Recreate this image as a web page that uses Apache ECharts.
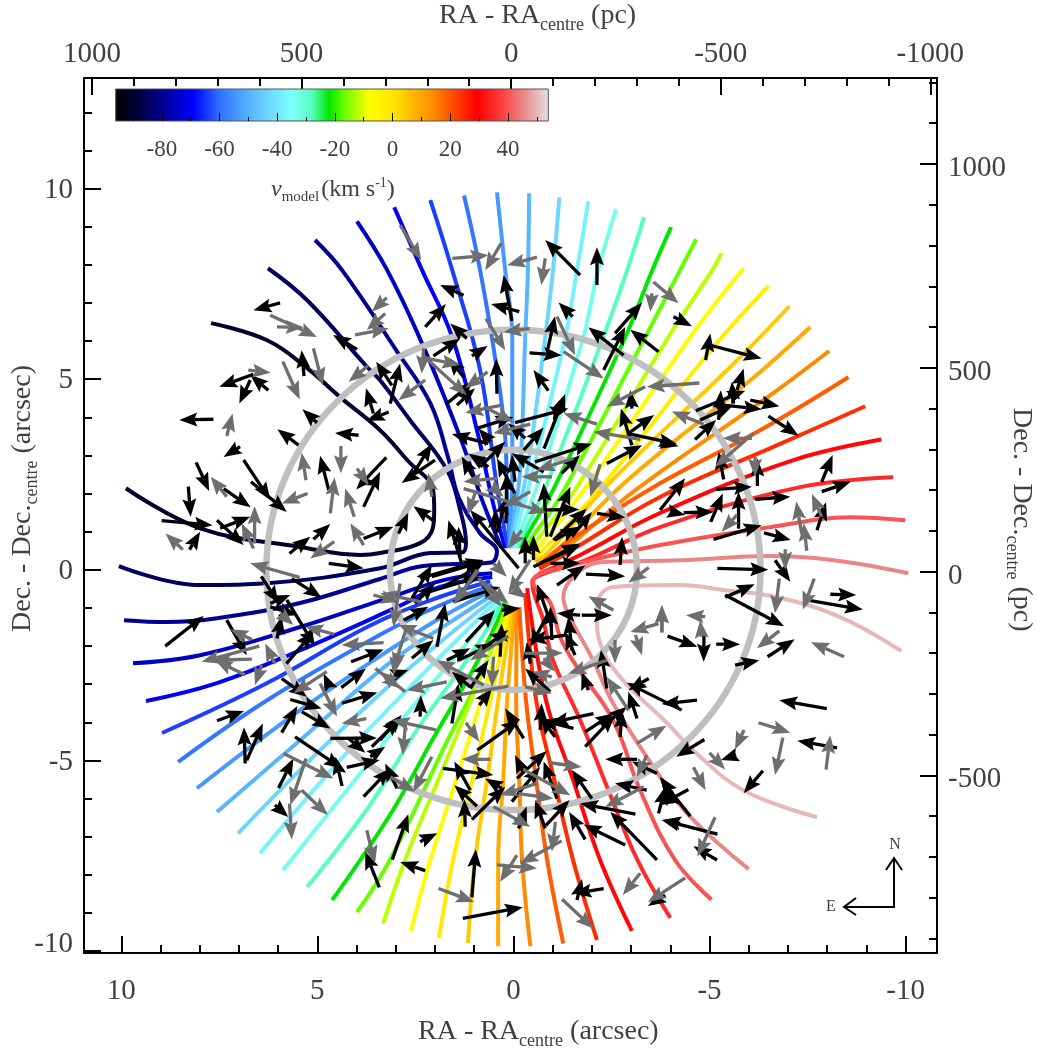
<!DOCTYPE html>
<html><head><meta charset="utf-8">
<style>html,body{margin:0;padding:0;background:#fff}#c{width:1037px;height:1052px}</style>
<script src="https://cdn.jsdelivr.net/npm/echarts@6/dist/echarts.min.js"></script>
</head><body><div id="c"></div>
<script>
// colour bar
const cbValues=[-96,-88,-80,-69,-60,-52,-45,-35,-28,-22,-17,-8,0,8,14,22,29,38,46,54];
const cbColors=['#000000','#00003c','#000090','#0000ff','#3070ff','#4da6ff','#66ccff','#7fffff','#55ffc0','#00e600','#66ff00','#ffff00','#ffe600','#ffb000','#ff8c00','#ff4000','#ff0000','#ff4040','#e89090','#e6e0e0'];
const cbMajor=[-80,-60,-40,-20,0,20,40];
const cbMinor=[-90,-70,-50,-30,-10,10,30,50];
// axes
const raMajor=[-10,-5,0,5,10];
const raMinor=[-9,-8,-7,-6,-4,-3,-2,-1,1,2,3,4,6,7,8,9];
const decMajor=[-10,-5,0,5,10];
const decMinor=[-9,-8,-7,-6,-4,-3,-2,-1,1,2,3,4,6,7,8,9,11,12];
const pcXMajor=[-1000,-500,0,500,1000];
const pcXMinor=[-900,-800,-700,-600,-400,-300,-200,-100,100,200,300,400,600,700,800,900];
const pcYMajor=[-500,0,500,1000];
const pcYMinor=[-900,-800,-700,-600,-400,-300,-200,-100,100,200,300,400,600,700,800,900,1100,1200];
// rings (arcsec)
const ringRadii=[3.15,6.3];
// contours
const contourValues=[-90,-85,-80,-75,-70,-64,-59,-54,-49,-43,-38,-33,-28,-22,-17,-12,-7,-2,4,9,14,19,24,30,35,40,45,50];
const contourPaths=[
[[[7.71,6.47],[6.28,6.02],[5.26,5.29],[4.42,4.53],[3.40,3.66],[2.71,2.88],[2.05,2.09],[2.02,1.57],[2.05,1.12],[2.38,.70],[3.40,.44],[3.91,.39],[5.44,.60],[7.99,1.09],[9.88,2.14]]],
[[[6.26,7.91],[5.26,7.07],[3.73,5.32],[3.40,4.97],[2.64,3.93],[1.69,2.61],[1.36,1.57],[1.21,.70],[1.31,.46],[2.12,.44],[3.40,.04],[6.28,-.35],[7.99,-.40],[10.06,.10]]],
[[[5.06,8.65],[4.37,7.86],[2.97,5.73],[2.12,4.37],[1.67,2.96],[1.40,1.91],[.85,.96],[.42,.49],[.54,.20],[.85,.17],[2.30,.10],[3.40,-.24],[5.44,-.87],[7.56,-1.27],[8.83,-1.37],[9.93,-1.32]]],
[[[3.99,9.14],[3.22,7.86],[2.33,5.94],[1.36,3.48],[.77,1.75],[.31,.59]],[[.54,-.09],[1.70,-.25],[3.15,-.72],[5.44,-1.50],[7.99,-2.24],[9.70,-2.45]]],
[[[3.04,9.51],[2.33,7.86],[1.56,6.10],[.93,3.66],[.52,1.75],[.21,.57]],[[.54,-.19],[1.87,-.45],[2.97,-.98],[5.44,-2.11],[7.56,-2.97],[9.37,-3.44]]],
[[[2.12,9.70],[1.56,7.86],[.85,5.24],[.42,2.17],[.14,.57]],[[.59,-.30],[2.12,-.80],[3.73,-1.50],[6.28,-2.97],[8.96,-4.28]]],
[[[1.26,9.82],[.85,7.86],[.42,5.24],[.21,3.48],[.16,1.75],[.08,.57]],[[.54,-.40],[1.87,-.93],[3.32,-1.66],[6.28,-3.42],[8.55,-5.04]]],
[[[.42,9.90],[.21,7.86],[.03,6.10],[.03,2.61],[.08,1.04],[.11,.57]],[[.49,-.51],[1.74,-1.19],[2.89,-1.92],[5.44,-3.68],[8.07,-5.73]]],
[[[-.40,9.88],[-.37,7.86],[-.30,6.10],[-.17,2.61],[.03,1.04],[.06,.57]],[[.42,-.58],[1.61,-1.37],[3.07,-2.37],[5.44,-4.47],[7.56,-6.35]]],
[[[-1.17,9.77],[-1.01,7.86],[-.81,6.10],[-.35,2.61],[-.02,1.04],[.01,.57]],[[.36,-.66],[1.49,-1.58],[3.15,-3.02],[4.93,-4.73],[7.02,-6.91]]],
[[[-1.91,9.67],[-1.62,7.86],[-1.32,6.10],[-.50,2.61],[-.09,1.04],[-.04,.57]],[[.31,-.72],[1.36,-1.76],[2.89,-3.34],[4.42,-4.99],[6.46,-7.43]]],
[[[-2.62,9.46],[-2.16,7.86],[-1.78,6.10],[-.68,2.43],[-.17,.96],[-.09,.57]],[[.26,-.77],[1.23,-1.97],[2.64,-3.68],[4.04,-5.51],[5.88,-7.88]]],
[[[-3.33,9.25],[-2.90,7.86],[-2.29,6.10],[-.86,2.27],[-.25,.91],[-.14,.57]],[[.24,-.82],[1.10,-2.24],[2.38,-4.07],[3.66,-6.17],[5.26,-8.32]]],
[[[-4.02,8.99],[-3.54,7.86],[-2.85,6.10],[-1.01,2.09],[-.35,.91],[-.20,.57]],[[.19,-.85],[.90,-2.37],[2.00,-4.34],[3.15,-6.43],[4.62,-8.66]]],
[[[-4.66,8.67],[-4.25,7.86],[-3.36,6.10],[-1.19,1.91],[-.48,.86],[-.27,.52]],[[.16,-.87],[.72,-2.50],[1.74,-4.60],[3.15,-7.61],[3.99,-8.98]]],
[[[-5.30,8.30],[-5.07,7.86],[-3.95,6.10],[-1.57,2.09],[-.60,.78],[-.34,.46]],[[.14,-.90],[1.08,-3.42],[1.92,-5.51],[2.76,-7.61],[3.32,-9.27]]],
[[[-5.87,7.91],[-4.64,6.29],[-1.83,2.14],[-.68,.65],[-.43,.39]],[[.08,-.93],[.82,-3.42],[1.46,-5.51],[2.12,-7.61],[2.61,-9.47]]],
[[[-6.50,7.44],[-5.14,5.89],[-2.21,2.14],[-.76,.52],[-.48,.31]],[[.06,-.95],[.59,-3.42],[1.05,-5.51],[1.54,-7.61],[1.90,-9.66]]],
[[[-7.04,6.92],[-5.66,5.45],[-2.47,2.30],[-.86,.44],[-.53,.25]],[[.01,-.98],[.39,-3.42],[.67,-5.51],[.98,-7.61],[1.16,-9.79]]],
[[[-7.57,6.37],[-6.04,4.97],[-2.85,2.30],[-.94,.36],[-.57,.20]],[[-.04,-.98],[.16,-3.42],[.26,-5.51],[.39,-7.61],[.39,-9.87]]],
[[[-8.05,5.74],[-6.55,4.58],[-3.11,2.09],[-1.06,.33],[-.60,.12]],[[-.09,-.98],[-.07,-3.42],[-.15,-5.51],[-.22,-7.61],[-.43,-9.87]]],
[[[-8.54,5.05],[-6.29,3.66],[-3.74,2.27],[-1.45,.78],[-.64,.10]],[[-.15,-.98],[-.32,-3.42],[-.58,-5.51],[-.86,-7.61],[-1.27,-9.80]]],
[[[-8.97,4.29],[-6.73,3.27],[-3.74,1.91],[-1.57,.57],[-.66,.02]],[[-.30,-.61],[-.58,-3.42],[-1.04,-5.51],[-1.52,-7.61],[-2.13,-9.71]]],
[[[-9.38,3.42],[-7.14,2.88],[-3.74,1.49],[-1.70,.39],[-.64,-.11]],[[-.35,-.48],[-.83,-3.42],[-1.52,-5.51],[-2.21,-7.61],[-3.02,-9.47]]],
[[[-9.68,2.43],[-7.31,2.17],[-3.74,1.12],[-1.83,.25],[-.68,-.14],[-.48,-.32],[-.76,-1.32],[-1.01,-2.37],[-1.70,-3.94],[-2.39,-5.70],[-3.16,-7.61],[-4.00,-9.13]]],
[[[-9.99,1.30],[-8.59,1.38],[-6.55,1.12],[-3.74,.65],[-1.45,.12],[-.68,-.10],[-.50,-.32],[-.94,-.87],[-1.19,-1.76],[-1.62,-2.55],[-2.54,-3.94],[-3.23,-5.78],[-4.12,-7.61],[-5.05,-8.65]]],
[[[-10.07,-.09],[-8.16,.25],[-6.55,.36],[-4.25,.25],[-2.21,.20],[-1.57,-.14],[-1.27,-.72],[-1.44,-1.24],[-2.03,-2.37],[-2.54,-3.50],[-3.74,-5.43],[-4.51,-6.48],[-6.00,-7.85]]],
[[[-9.89,-2.13],[-8.33,-1.24],[-6.73,-.72],[-5.35,-.53],[-4.25,-.40],[-2.54,-.45],[-2.13,-.93],[-2.13,-1.24],[-2.21,-1.92],[-2.72,-2.81],[-3.92,-4.02],[-4.58,-4.73],[-5.86,-5.78],[-7.74,-6.49]]]
];
// arrows: tail x, tail y, tip x, tip y (arcsec)
const blackArrows=[
[5.95,7.00,6.63,6.81],[6.25,4.71,6.71,5.11],[6.63,5.13,7.50,4.80],[6.71,4.98,6.99,4.36],[7.65,3.95,8.52,3.93],[5.34,5.08,5.40,5.76],[3.99,5.78,4.60,6.16],[5.01,3.86,5.38,4.21],[5.48,3.27,6.02,3.69],[3.95,3.53,4.55,3.59],
[6.97,3.23,7.39,2.96],[6.88,2.88,6.20,1.83],[8.09,2.82,7.76,2.07],[8.29,2.18,8.23,1.39],[7.39,2.13,6.70,1.64],[6.69,2.31,5.78,1.52],[8.97,1.29,7.67,1.17],[8.26,.53,7.99,1.00],[7.56,1.30,6.88,.65],[7.48,1.09,6.71,1.39],
[5.71,.43,5.18,.87],[5.10,.80,4.67,1.20],[4.71,.17,3.82,.04],[3.82,.82,3.06,1.13],[3.82,1.65,3.40,2.57],[3.24,2.95,4.01,2.11],[4.71,2.09,4.93,2.99],[3.57,4.10,3.76,4.76],[3.18,4.14,3.74,3.91],[3.10,4.84,3.50,5.46],[3.14,4.36,2.89,5.41],
[1.27,7.20,1.87,7.47],[2.25,6.37,1.72,6.97],[.04,6.53,.25,7.73],[-.15,6.77,.57,6.97],[1.19,6.07,1.61,6.46],[2.04,5.61,1.36,6.07],[1.06,5.61,.66,5.87],[.42,4.62,.44,5.54],[1.27,5.05,1.66,5.57],[1.70,4.36,1.02,4.93],[1.44,4.32,.98,4.76],
[-.89,4.70,-.51,5.24],[-.87,5.76,-1.06,6.65],[-.41,5.69,-1.23,5.63],[-1.51,6.64,-1.15,7.01],[-2.81,5.63,-1.91,6.36],[-2.30,5.24,-2.85,6.37],[-2.59,6.20,-3.28,7.01],[-3.70,5.72,-2.98,6.30],[.93,3.71,0,4.01],[-.04,3.86,-1.40,4.23],[-.78,3.18,-1.32,4.61],[-.26,3.14,-.77,3.73],
[.64,3.31,1.57,3.56],[.59,3.36,.89,3.71],[-.30,3.45,.13,3.84],[-3.02,3.27,-2.74,4.23],[-3.02,4.23,-2.98,4.71],[-2.93,3.58,-3.59,4.06],[-2.38,2.79,-3.28,3.27],[-2.89,3.58,-4.17,3.30],[-.55,2.83,-2.00,3.31],[-1.23,2.53,-1.70,3.01],[-.77,2.57,.04,3.05],[.85,2.70,.21,3.36],
[.89,2.18,1.32,2.97],[.64,2.70,1.15,3.05],[-.04,2.00,.42,2.92],[-.04,2.31,.04,3.01],[.19,1.22,.17,2.53],[.42,.98,.17,1.92],[.47,.95,.47,1.57],[2.00,2.88,2.85,2.28],[2.55,2.53,2.08,3.31],[2.00,1.26,2.55,1.67],[2.93,.95,2.68,1.50],[1.32,.17,1.66,1.30],[1.36,.34,1.40,1.13],[-.13,.04,1.10,1.57],
[-.77,1.57,-1.68,1.58],[-.85,.87,-.77,2.27],[-.94,.87,-1.45,2.18],[-1.02,.78,-1.87,1.61],[-1.49,.87,-2.00,1.52],[-2.13,1.48,-2.85,1.37],[-1.06,.78,-1.66,1.13],[-.68,.17,-1.70,.69],[-.30,.17,-.30,.87],[-.51,.26,-.51,.91],[-2.72,.13,-2.77,.87],[-.94,.17,-1.70,.17],[-3.74,1.57,-4.38,2.40],
[-4.08,6.64,-4.55,6.39],[-4.90,5.50,-5.02,6.20],[-5.02,5.89,-6.33,5.54],[-5.70,4.71,-5.87,5.28],[-4.65,4.17,-5.91,4.70],[-5.61,4.36,-5.57,4.93],[-5.23,3.93,-5.29,4.71],[-5.36,4.32,-6.33,4.21],[-6.04,4.45,-6.78,4.29],[-6.50,4.03,-7.27,3.52],[-4.63,3.42,-5.17,3.93],[-4.76,3.93,-5.61,4.32],[-3.74,3.36,-4.21,3.24],
[-5.36,2.37,-5.23,3.10],[-6.22,2.20,-6.22,2.92],[-7.86,2.31,-8.14,3.01],[-5.17,2.11,-6.08,2.18],[-5.74,1.08,-5.74,2.05],[-6.16,1.85,-7.06,1.92],[-7.86,2.05,-8.60,2.31],[-5.03,1.26,-5.34,2.00],[-4.34,1.50,-5.10,1.52],[-3.99,1.53,-4.38,1.44],[-5.10,.80,-6.33,1.17],[-6.39,.97,-7.07,.78],[-7.74,1.04,-7.97,1.77],[-5.20,.04,-6.50,0],[-6.67,.25,-7.06,-.31],
[2.38,-.22,.76,.26],[2.29,-.62,.85,-.18],[1.78,-.44,.76,.17],[1.95,-2.02,1.74,-.88],[-1.11,-.40,-1.83,.12],[-1.85,-.11,-2.85,-.17],[-.51,.08,-1.70,.65],
[2.59,-.75,2.08,.12],[2.51,-.88,2.00,-.36],[2.08,-.18,.81,.21],[2.80,-1.32,2.17,-.97],[2.59,-2.32,2.04,-1.84],[1.53,-.84,.34,-.45],[3.06,-2.76,2.68,-2.63],[1.21,-1.89,.47,-1.06],[1.70,-2.37,1.10,-2.06],[1.40,-2.37,.51,-1.93],[.85,-2.11,.13,-1.58],[.30,-1.06,-.17,-1.01],[.34,-2.28,.30,-1.41],
[1.10,-3.07,1.57,-2.67],[1.10,-3.11,.64,-2.37],[1.57,-4.03,1.40,-2.98],[.87,-3.55,.55,-3.11],[2.38,-3.85,2.36,-3.29],[3.40,-4.47,2.85,-3.81],[-.26,-4.42,.21,-3.64],[.92,-4.73,-.15,-3.94],[1.80,-5.21,.51,-5.38],[1.10,-5.78,1.51,-5.03],[.93,-6.20,1.51,-5.65],[1.06,-6.55,.21,-5.69],[1.23,-6.74,1.25,-6.02],[.30,-5.73,.72,-5.47],
[.04,-6.08,-.68,-5.17],[-.09,-5.47,-.85,-4.75],[-.26,-5.34,-.04,-4.86],[-1.11,-6.00,-.77,-5.03],[-.81,-6.78,-.55,-6.04],[-.83,-6.70,-1.43,-6.04],[-.13,-6.78,-.34,-6.21],[-1.83,-7.07,-1.42,-6.35],[-2.85,-7.22,-1.79,-6.68],[-3.11,-6.41,-1.70,-6.13],[-3.66,-7.61,-2.47,-6.35],[-2.00,-6.00,-1.49,-5.25],
[-2.04,-3.77,-.94,-4.01],[-1.53,-4.16,-.68,-3.94],[-1.06,-4.38,-.68,-3.85],[-.68,-4.20,-.72,-3.50],[-.94,-3.20,-.30,-2.59],[-.43,-2.46,-.34,-1.89],[-1.57,-2.24,-1.32,-1.63],[-1.36,-1.71,-.38,-1.84],[-1.49,-2.11,-1.40,-1.23],[-.98,-1.49,-.60,-.37],[-.98,-1.84,-.94,-.97],[-.89,-1.14,-.43,-2.02],[-1.70,-1.19,-1.11,-1.14],[-1.74,-1.19,-2.51,-1.19],
[-1.91,-3.16,-1.74,-2.67],[-2.38,-3.11,-2.23,-2.10],[-3.93,-1.74,-4.69,-2.02],[-3.15,-3.90,-2.93,-3.20],[-4.68,-3.42,-3.78,-3.52],[-4.29,-3.68,-2.89,-2.96],[-3.45,-2.85,-2.93,-3.16],[-1.83,-4.25,-2.55,-3.77],[-1.83,-4.64,-2.59,-3.81],[-2.72,-4.38,-2.77,-3.68],[-2.38,-4.03,-2.89,-3.59],
[-3.15,-4.97,-2.34,-4.97],[-3.66,-5.34,-3.02,-5.03],[-3.40,-5.78,-2.59,-5.60],[-3.70,-6.39,-3.87,-5.69],[-4.21,-6.13,-3.74,-5.43],[-4.08,-5.82,-3.66,-6.08],[-4.25,-6.65,-3.81,-6.56],
[-4.86,-1.63,-4.85,-2.41],[-5.17,-1.95,-5.78,-1.95],[-5.65,-2.50,-6.27,-2.37],[-6.48,-2.28,-7.17,-1.82],[-5.40,-.72,-6.15,-.38],[-5.40,-.66,-6.90,-1.48],[-7.57,-.81,-8.91,-1.04],[-8.08,-.64,-8.74,-.66],[-7.99,-3.64,-6.78,-3.42],[-8.25,-4.67,-7.24,-4.48],[-4.87,-4.45,-4.15,-4.90],[-5.68,-4.86,-5.29,-4.99],[-6.36,-5.27,-5.87,-5.86],[-4.51,-6.46,-3.74,-5.47],[-4.46,-5.76,-3.74,-6.17],[-5.20,-6.93,-3.78,-6.56],[-5.19,-7.61,-4.59,-7.25],
[8.88,-2.00,7.90,-1.21],[7.31,-1.32,6.80,-2.24],[6.43,-.17,5.99,-.88],[6.20,-.88,5.69,-.66],[6.20,-.97,5.52,-1.19],[5.65,-.23,4.89,-.73],[5.78,-.79,5.06,-2.00],[6.03,-1.80,5.91,-1.21],[5.79,-2.46,5.10,-1.63],[5.91,-2.85,5.27,-3.33],[5.69,-3.40,4.89,-3.64],[5.40,-3.72,4.67,-4.16],[5.91,-4.27,5.51,-3.57],[7.56,-3.96,6.87,-3.70],[6.84,-5.08,6.87,-4.13],[6.80,-5.00,6.39,-4.03],
[4.67,-4.42,3.48,-4.41],[4.37,-3.50,3.47,-3.22],[4.39,-3.09,3.76,-2.59],[4.14,-2.41,3.31,-2.09],[4.69,-3.07,4.84,-2.72],[5.57,-4.38,4.37,-5.21],[4.37,-5.67,4.54,-4.90],[5.99,-5.72,5.61,-4.95],[4.25,-5.18,3.41,-4.99],[4.21,-4.42,3.78,-4.80],[3.61,-4.64,2.89,-3.90],[3.82,-5.95,3.14,-5.21],[3.65,-4.90,3.27,-4.64],[2.97,-5.73,3.27,-5.08],[6.08,-6.17,5.74,-6.48],
[3.42,-8.33,3.78,-7.39],[3.09,-7.60,2.68,-6.41],[2.25,-7.89,2.89,-7.66],[2.38,-7.13,1.94,-6.91],[1.06,-8.59,.96,-7.33],[1.29,-9.14,-.24,-8.85],[-2.30,-8.36,-1.53,-8.49],[-1.62,-8.66,-1.75,-8.11],[-3.87,-8.53,-3.43,-8.82],
[-1.70,7.73,-.81,8.65],[-2.13,7.47,-2.13,8.46]
];
const grayArrows=[
[6.20,6.68,5.01,6.11],[6.03,6.37,5.35,6.36],[5.10,5.81,4.86,4.84],[5.88,5.46,5.45,4.47],[6.76,5.24,6.19,5.17],[7.31,3.51,7.16,4.10],[3.71,5.35,4.20,4.93],[3.23,7.14,3.61,6.77],[3.27,6.72,3.74,6.29],[4.04,6.16,3.18,6.33],[5.29,2.35,5.40,3.07],[4.40,3.25,4.40,2.53],[4.67,1.48,4.56,2.42],[4.06,1.39,4.29,2.13],[3.99,2.66,3.69,2.22],[3.82,.65,4.16,1.22],[5.25,2.00,5.91,1.74],[7.31,1.92,7.72,2.44],[6.63,.56,6.93,1.22],[6.60,.69,6.60,1.67],[8.43,.53,8.87,.95],[4.57,.74,5.18,.30],
[.70,6.59,.21,5.76],[-.41,6.33,.25,6.24],[-1.11,6.64,-1.57,5.63],[-1.28,5.72,-2.30,5.02],[-.81,8.17,-.71,7.47],[-3.57,7.55,-4.21,6.99],[-3.53,7.25,-3.49,6.77],[-3.36,4.80,-2.38,4.28],[-2.13,3.82,-1.28,4.10],[-3.23,3.42,-2.04,3.62],[.30,4.32,1.23,4.12],[.76,4.28,0,3.88],[-.43,3.82,.51,3.58],[2.25,4.98,2.93,4.45],[.66,5.19,1.23,4.76],[2.29,5.81,2.34,5.15],[2.29,5.61,1.19,4.58],[2.34,5.57,1.36,5.37],[-2.21,2.77,-1.96,1.92],[-1.53,2.92,-.60,2.62],[-.98,2.44,-.21,2.44],[.42,2.40,1.27,2.31],[1.27,2.13,-.85,1.50],[-.43,2.05,.25,1.65],[.55,2.18,.25,1.92],[2.08,1.92,2.17,2.53],[.98,2.00,1.17,1.44],[-.21,1.04,.13,.56],
[-4.74,4.90,-3.40,4.80],[-4.85,3.82,-4.04,4.15],[-6.12,3.58,-5.14,2.70],[-6.08,3.45,-5.34,3.45],[-6.16,2.96,-6.16,2.44],[-5.70,1.44,-5.31,1.00],[-7.48,.50,-7.40,1.22],[-7.35,.95,-7.21,1.79],[-7.86,1.39,-7.61,1.99],[-6.93,.54,-6.93,0],
[.89,-.22,.30,-.97],[.93,0,1.49,-.88],[.08,-.44,-.34,-.75],[-.43,.26,.13,-.62],[.51,.17,.17,-.18],
[.13,-1.74,1.10,-2.37],[1.70,-2.94,2.72,-3.16],[2.76,-3.20,3.40,-2.67],[.13,-3.05,1.87,-3.37],[.76,-3.02,1.95,-2.37],[2.04,-1.80,2.93,-1.45],[2.34,-.84,3.40,-.62],[2.89,-.36,3.06,-1.49],[2.72,-1.49,3.06,-2.63],[.89,-.01,1.53,-.88],[.89,-.23,.13,-.88],[.51,-2.28,.55,-3.07],[-.30,-2.19,-1.26,-2.18],[-.77,-2.32,-1.06,-2.67],[-.98,-2.81,-.47,-2.67],[-2.38,-2.37,-1.40,-2.72],[-2.55,-1.06,-1.91,-.69],[-3.45,.06,-2.93,-.34],[-3.70,-1.41,-2.98,-1.63],[-3.79,-1.65,-3.79,-.93],[-3.11,-1.71,-3.28,-2.24],[-2.59,-1.84,-2.59,-2.46],[-2.93,-3.68,-2.38,-2.81],[-3.15,-4.55,-3.90,-4.09],[-3.40,-4.86,-3.15,-5.43],[-3.32,-5.69,-2.34,-6.22],[-.30,-3.07,-.98,-3.24],[1.98,-4.20,3.10,-3.94],[2.76,-4.12,2.82,-4.86],[1.21,-4.01,.87,-4.51],[.59,-4.97,1.32,-4.97],[2.08,-4.90,2.55,-5.82],[3.14,-5.43,2.51,-5.82],[-.26,-5.24,-1.45,-5.91],[-.92,-5.06,-1.74,-5.17],[-.60,-5.60,.34,-5.91],[-.13,-5.87,-1.02,-6.00],[.51,-6.21,-.43,-6.74],
[-3.78,-1.63,-3.78,-.93],[-4.80,-1.76,-4.76,-1.32],[-4.89,-1.23,-4.40,-1.19],[-6.78,-.23,-6.67,-1.14],[-7.67,-.23,-7.38,-1.04],[-6.78,-1.60,-6.21,-2.06],[-8.43,-2.28,-7.59,-1.90],[-6.25,-4.01,-7.06,-4.27],[-6.87,-4.40,-6.67,-5.38],[-7.97,-5.24,-8.08,-4.34],[-5.88,-4.20,-5.65,-4.71],[-5.00,-4.80,-5.40,-5.24],[-4.59,-5.18,-4.90,-5.78],[-5.14,-6.49,-4.69,-7.52],
[5.45,-.20,6.71,.17],[6.67,-1.83,7.22,-1.56],[6.48,-2.00,7.95,-2.41],[6.67,-2.34,7.65,-2.37],[6.84,-2.76,7.61,-2.37],[6.08,-2.47,6.33,-1.93],[6.42,-2.50,6.59,-3.02],[5.95,-1.14,5.61,-1.45],[4.57,-1.69,5.31,-1.49],[4.76,-2.67,5.61,-3.24],[4.93,-2.98,4.50,-3.85],[3.31,-1.91,4.38,-1.97],[3.75,-3.90,4.38,-4.03],[3.57,-.66,2.93,-.84],[5.29,-4.95,5.69,-6.17],[5.86,-4.82,4.59,-5.47],[5.71,-6.13,5.65,-7.07],[5.40,-5.78,4.73,-6.43],[3.52,-2.59,2.89,-3.11],[2.97,-2.19,3.06,-2.76],
[3.74,-6.83,3.53,-7.70],[1.91,-8.36,1.00,-8.71],[.42,-7.74,-.60,-7.83],[-.09,-7.48,.34,-8.18],[-1.23,-7.11,-.17,-7.70],[-1.07,-6.61,-.98,-7.39],[-1.24,-8.64,-2.04,-9.41],[-3.23,-7.96,-2.79,-8.53],[-4.38,-8.08,-3.43,-8.71],
[2.89,9.04,2.35,8.12],[1.56,8.17,.64,8.25],[.31,8.57,.72,7.86],[-.60,8.20,.16,7.99]
];

const ink='#404040', face='"Liberation Serif",serif';
const cmap=v=>{
  const hex=c=>[1,3,5].map(i=>parseInt(c.substr(i,2),16));
  for(let i=0;i<cbValues.length-1;i++){
    if(v<=cbValues[i+1]){
      const t=(v-cbValues[i])/(cbValues[i+1]-cbValues[i]),a=hex(cbColors[i]),b=hex(cbColors[i+1]);
      return 'rgb('+a.map((p,k)=>Math.round(p+(b[k]-p)*t)).join(',')+')';
    }
  }
  return cbColors[cbColors.length-1];
};
const arrowItem=color=>(params,api)=>{
  const a=api.coord([api.value(0),api.value(1)]),b=api.coord([api.value(2),api.value(3)]);
  let dx=b[0]-a[0],dy=b[1]-a[1];const n=Math.hypot(dx,dy)||1;dx/=n;dy/=n;
  const L=18,W=7,N=3,bx=b[0]-dx*L,by=b[1]-dy*L;
  return {type:'group',children:[
    {type:'line',shape:{x1:a[0],y1:a[1],x2:bx+dx*N,y2:by+dy*N},style:{stroke:color,lineWidth:3.3}},
    {type:'polygon',shape:{points:[b,[bx-dy*W,by+dx*W],[bx+dx*N,by+dy*N],[bx+dy*W,by-dx*W]]},style:{fill:color}}
  ]};
};
const baseTick=(vals,len,w)=>({show:true,inside:true,length:len,customValues:vals,lineStyle:{color:'#000',width:w}});
function axisPair(common,major,minor,labelCfg,len1,len2,w,lineW){
  return [
    Object.assign({type:'value',splitLine:{show:false},axisLine:{show:lineW>0,onZero:false,lineStyle:{color:'#000',width:lineW}},axisTick:baseTick(major,len1,w),
      axisLabel:Object.assign({show:true,customValues:major,color:ink,fontFamily:face,fontSize:29,hideOverlap:false},labelCfg)},common),
    Object.assign({type:'value',splitLine:{show:false},axisLine:{show:false,onZero:false},axisTick:baseTick(minor,len2,w),axisLabel:{show:false}},common)
  ];
}
const fmt=v=>String(v);
const leftRich={fontFamily:face,fontSize:29,color:ink};
const xAxis=[
  ...axisPair({gridIndex:0,position:'bottom',min:-10.8,max:10.95,inverse:true},raMajor,raMinor,{margin:24,formatter:fmt},17,8,2,2),
  ...axisPair({gridIndex:0,position:'top',min:-1016,max:1019,inverse:true},pcXMajor,pcXMinor,{margin:9,formatter:fmt},17,8,2,2),
  ...axisPair({gridIndex:1,position:'bottom',min:-96,max:54,z:10},cbMajor,cbMinor,{margin:17,fontSize:23,formatter:fmt},8,4,1,0)
];
const yAxis=[
  ...axisPair({gridIndex:0,position:'left',min:-10.05,max:12.9},decMajor,decMinor,{margin:11,
    formatter:v=>v===-10?'{up|-10}':'{d|'+v+'}',
    rich:{up:Object.assign({padding:[0,0,14,0]},leftRich),d:Object.assign({padding:[3,0,0,0]},leftRich)}},17,8,2,2),
  ...axisPair({gridIndex:0,position:'right',min:-936,max:1211},pcYMajor,pcYMinor,{margin:11,
    formatter:v=>'{d|'+v+'}',rich:{d:Object.assign({padding:[9,0,0,0]},leftRich)}},17,8,2,2),
  {type:'value',gridIndex:1,min:0,max:1,show:false}
];
const series=[];
contourPaths.forEach((segs,i)=>segs.forEach(seg=>series.push({type:'line',xAxisIndex:0,yAxisIndex:0,data:seg,smooth:.4,symbol:'none',z:2,silent:true,lineStyle:{color:cmap(contourValues[i]),width:4,cap:'butt'}})));
series.push({type:'custom',xAxisIndex:0,yAxisIndex:0,z:3,silent:true,data:ringRadii.map(r=>[r]),encode:{x:0},renderItem:(p,api)=>{
  const r=api.value(0),c=api.coord([0,0]),s=api.size([r,r]);
  return {type:'ellipse',shape:{cx:c[0],cy:c[1],rx:s[0],ry:s[1]},style:{fill:'none',stroke:'#bfbfbf',lineWidth:6.5}};
}});
series.push({type:'custom',xAxisIndex:0,yAxisIndex:0,z:4,silent:true,data:blackArrows,encode:{x:[0,2],y:[1,3]},renderItem:arrowItem('#000000')});
series.push({type:'custom',xAxisIndex:0,yAxisIndex:0,z:5,silent:true,data:grayArrows,encode:{x:[0,2],y:[1,3]},renderItem:arrowItem('#6e6e6e')});
series.push({type:'custom',xAxisIndex:4,yAxisIndex:4,z:1,silent:true,data:[[cbValues[0],cbValues[cbValues.length-1]]],encode:{x:[0,1]},renderItem:(p,api)=>{
  const v0=api.value(0),v1=api.value(1),a=api.coord([v0,1]),b=api.coord([v1,0]);
  const stops=cbValues.map((v,i)=>({offset:(v-v0)/(v1-v0),color:cbColors[i]}));
  return {type:'rect',shape:{x:a[0],y:a[1],width:b[0]-a[0],height:b[1]-a[1]},style:{fill:new echarts.graphic.LinearGradient(0,0,1,0,stops),stroke:'#555',lineWidth:1}};
}});

const measure=document.createElement('canvas').getContext('2d');
function run(x,y,rotation,parts){
  let cur=0;const children=[];
  parts.forEach(p=>{
    const font=(p.italic?'italic ':'')+p.size+'px "Liberation Serif"';
    measure.font=font;
    children.push({type:'text',x:cur+(p.dx||0),y:(p.dy||0)-p.size*.31,style:{text:p.t,fontFamily:'"Liberation Serif"',fontSize:p.size,fontStyle:p.italic?'italic':'normal',fill:ink,textAlign:'left',verticalAlign:'middle'}});
    cur+=measure.measureText(p.t).width+(p.dx||0);
  });
  return {type:'group',x,y,rotation,silent:true,children};
}
const raTitle=u=>[{t:'RA - RA',size:28},{t:'centre',size:18,dy:7},{t:' '+u,size:28}];
const decTitle=(u,d)=>[{t:'Dec. - Dec.',size:28},{t:'centre',size:18,dy:d},{t:' '+u,size:28}];
const stroke={stroke:'#000',lineWidth:2,fill:'none'};
const graphic=[
  run(418,1040,0,raTitle('(arcsec)')),
  run(439,24,0,raTitle('(pc)')),
  run(31,632,Math.PI/2,decTitle('(arcsec)',7)),
  run(1013,408,-Math.PI/2,decTitle('(pc)',7)),
  run(271,197,0,[{t:'v',size:24,italic:true},{t:'model',size:15,dy:5},{t:'(km s',size:24,dx:2},{t:'-1',size:14,dy:-9},{t:')',size:24}]),
  {type:'polyline',silent:true,shape:{points:[[894,859],[894,907],[845,907]]},style:stroke},
  {type:'polyline',silent:true,shape:{points:[[886,870],[894,858],[902,870]]},style:stroke},
  {type:'polyline',silent:true,shape:{points:[[856,898],[844,907],[856,915]]},style:stroke},
  {type:'text',silent:true,x:895,y:845,style:{text:'N',fontFamily:'"Liberation Serif"',fontSize:16,fill:ink,textAlign:'center',verticalAlign:'middle'}},
  {type:'text',silent:true,x:831,y:907,style:{text:'E',fontFamily:'"Liberation Serif"',fontSize:16,fill:ink,textAlign:'center',verticalAlign:'middle'}}
];
const chart=echarts.init(document.getElementById('c'),null,{renderer:'canvas'});
chart.setOption({animation:false,backgroundColor:'#fff',
  grid:[{left:84,top:78,right:100,bottom:99,containLabel:false},{left:115.7,top:89,width:432.6,height:32,containLabel:false}],
  xAxis,yAxis,series,graphic});
</script></body></html>
